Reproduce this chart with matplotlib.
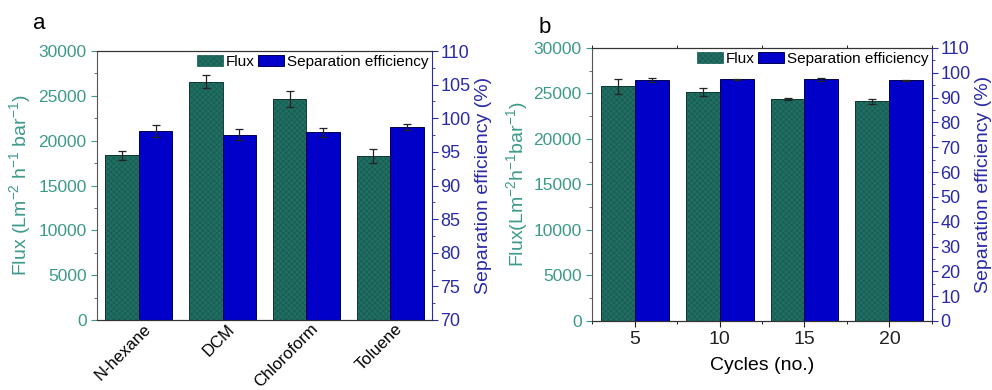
import numpy as np
import matplotlib.pyplot as plt
from matplotlib.ticker import MultipleLocator
from matplotlib.patches import Patch

plt.rcParams['font.family'] = ['Liberation Sans', 'DejaVu Sans']
plt.rcParams['hatch.linewidth'] = 0.5
plt.rcParams['mathtext.fontset'] = 'custom'
plt.rcParams['mathtext.rm'] = 'Liberation Sans'
plt.rcParams['mathtext.it'] = 'Liberation Sans'

# panel a data
solvents = ['N-hexane', 'DCM', 'Chloroform', 'Toluene']
flux_a = [18400, 26580, 24610, 18320]
flux_a_err = [500, 700, 900, 800]
sep_a = [98.1, 97.55, 97.9, 98.75]
sep_a_err = [0.9, 0.85, 0.7, 0.45]

# panel b data
cycles = [5, 10, 15, 20]
flux_b = [25780, 25190, 24390, 24130]
flux_b_err = [800, 450, 100, 300]
sep_b = [97.2, 97.3, 97.3, 96.9]
sep_b_err = [0.8, 0.3, 0.5, 0.1]

teal = '#216f63'
teal_hatch = '#175a50'
teal_txt = '#3d9a8b'
blue = '#0000c8'
blue_txt = '#2a2aa8'

fig = plt.figure(figsize=(9.92, 3.9), dpi=100)

def style_axes(ax, ax2):
    ax.tick_params(axis='y', colors=teal_txt, labelsize=12.5, direction='out', length=4)
    ax.tick_params(axis='y', which='minor', colors='#555555', length=2.5)
    ax.spines['left'].set_color('#555555')
    ax.spines['right'].set_visible(False)
    ax2.spines['right'].set_color(blue_txt)
    ax2.spines['left'].set_visible(False)
    ax2.tick_params(axis='y', colors=blue_txt, labelsize=13, direction='out', length=4, pad=2)
    ax2.tick_params(axis='y', which='minor', colors=blue_txt, length=2.5)
    for a in (ax, ax2):
        a.spines['top'].set_color('#333333')
        a.spines['bottom'].set_color('#333333')

ekw = dict(elinewidth=0.9, capthick=0.9, ecolor='#222222')
leg_kw = dict(ncol=2, frameon=False, loc='upper right', fontsize=11,
              handlelength=1.7, handleheight=0.7, handletextpad=0.2,
              columnspacing=0.2, borderaxespad=0.15, borderpad=0.1)

def teal_bars(ax, xs, ys, err, w):
    # fine checker fill, then a dark outline on top
    ax.bar(xs, ys, w, color=teal, edgecolor=teal_hatch, hatch='xxxxxx', linewidth=0)
    return ax.bar(xs, ys, w, yerr=err, capsize=3, fill=False, edgecolor='#0f3a34',
                  linewidth=0.7, error_kw=ekw, label='Flux')

flux_patch = Patch(facecolor=teal, edgecolor=teal_hatch, hatch='xxxxxx', linewidth=0.5)

# ---- panel a
ax = fig.add_axes([0.0978, 0.1795, 0.3377, 0.6897])
ax2 = ax.twinx()
x = np.arange(len(solvents))
teal_bars(ax, x - 0.2, flux_a, flux_a_err, 0.4)
b2 = ax2.bar(x + 0.2, sep_a, 0.4, yerr=sep_a_err, capsize=3, color=blue,
             edgecolor='#000050', linewidth=0.7, error_kw=ekw, label='Separation efficiency')
ax.set_xlim(-0.5, 3.5)
ax.set_ylim(0, 30000)
ax2.set_ylim(70, 110)
ax.yaxis.set_major_locator(MultipleLocator(5000))
ax.yaxis.set_minor_locator(MultipleLocator(2500))
ax2.yaxis.set_major_locator(MultipleLocator(5))
ax2.yaxis.set_minor_locator(MultipleLocator(2.5))
ax.set_xticks(x + 0.05)
ax.set_xticklabels(solvents, rotation=45, ha='right', rotation_mode='anchor', fontsize=12)
ax.tick_params(axis='x', length=0, pad=1)
style_axes(ax, ax2)
ax.set_ylabel('Flux (Lm$^{-2}$ h$^{-1}$ bar$^{-1}$)', color=teal_txt, fontsize=14, labelpad=4)
ax2.set_ylabel('Separation efficiency (%)', color=blue_txt, fontsize=14, labelpad=3)
ax.legend([flux_patch, b2], ['Flux', 'Separation efficiency'], **leg_kw)
fig.text(0.033, 0.925, 'a', fontsize=16)

# ---- panel b
bx = fig.add_axes([0.5968, 0.177, 0.3427, 0.700])
bx2 = bx.twinx()
cx = np.array(cycles)
teal_bars(bx, cx - 1, flux_b, flux_b_err, 2)
c2 = bx2.bar(cx + 1, sep_b, 2, yerr=sep_b_err, capsize=3, color=blue,
             edgecolor='#000050', linewidth=0.7, error_kw=ekw, label='Separation efficiency')
bx.set_xlim(2.5, 22.5)
bx.set_ylim(0, 30000)
bx2.set_ylim(0, 110)
bx.yaxis.set_major_locator(MultipleLocator(5000))
bx.yaxis.set_minor_locator(MultipleLocator(2500))
bx2.yaxis.set_major_locator(MultipleLocator(10))
bx2.yaxis.set_minor_locator(MultipleLocator(5))
bx.set_xticks(cycles)
bx.xaxis.set_minor_locator(MultipleLocator(2.5))
bx.tick_params(axis='x', labelsize=14, length=4, colors='#222222')
bx.tick_params(axis='x', which='minor', length=2.5, top=True)
style_axes(bx, bx2)
bx.set_xlabel('Cycles (no.)', fontsize=14, labelpad=6)
bx.set_ylabel('Flux(Lm$^{-2}$h$^{-1}$bar$^{-1}$)', color=teal_txt, fontsize=14, labelpad=2)
bx2.set_ylabel('Separation efficiency (%)', color=blue_txt, fontsize=14, labelpad=3)
bx.legend([flux_patch, c2], ['Flux', 'Separation efficiency'], **leg_kw)
fig.text(0.543, 0.915, 'b', fontsize=16)

fig.savefig('out.png', dpi=100)
